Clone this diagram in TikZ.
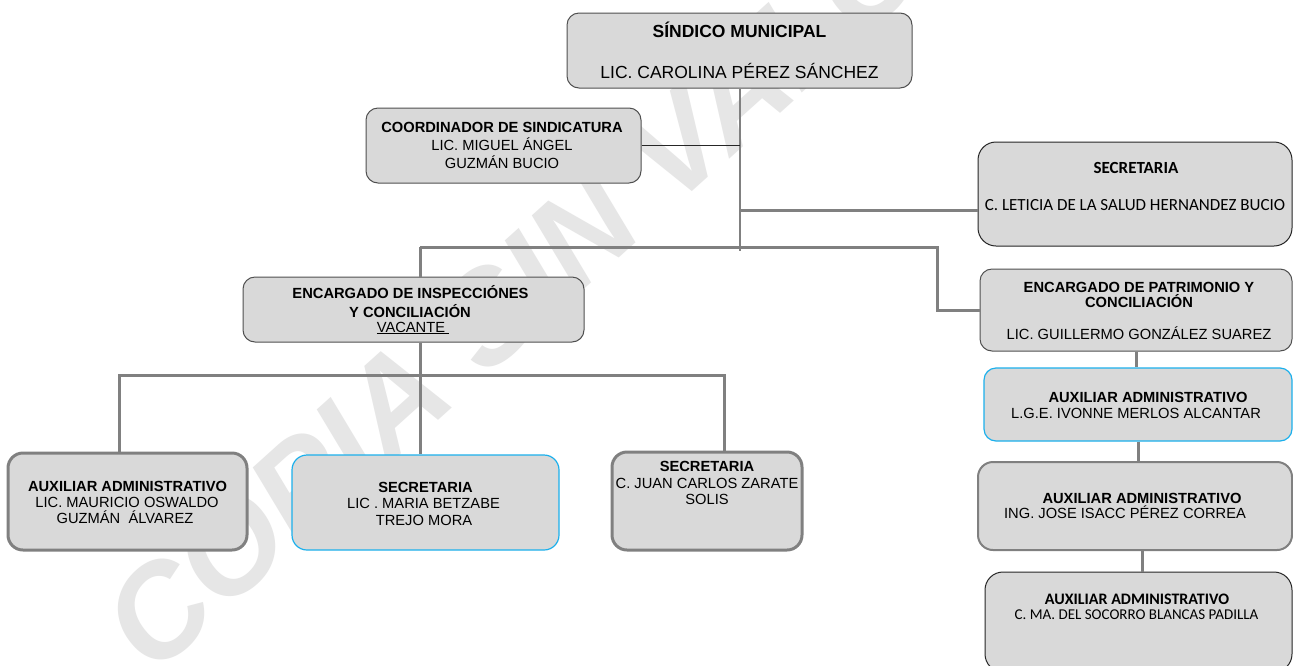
\documentclass[tikz,border=0pt]{standalone}
\usepackage{fontspec}
\setmainfont{Liberation Sans}
\newfontfamily\calibri{Carlito}
\definecolor{boxfill}{HTML}{D9D9D9}
\definecolor{bdark}{HTML}{505050}
\definecolor{lgray}{HTML}{808080}
\definecolor{bblue}{HTML}{1CB0EC}
\definecolor{wmcol}{HTML}{E6E6E6}
\definecolor{blk}{HTML}{262626}
\tikzset{
  boxg/.style={rounded corners=12pt, fill=boxfill, draw=bdark, line width=1pt, inner sep=0pt},
  boxthick/.style={boxg, draw=lgray, line width=3pt},
  boxblue/.style={boxg, draw=bblue, line width=1.2pt},
  txt/.style={anchor=base, inner sep=0pt, text=black, font=\fontsize{14.7}{17}\selectfont},
  txtb/.style={anchor=base, inner sep=0pt, text=black, font=\bfseries\fontsize{14.7}{17}\selectfont},
  conn/.style={draw=lgray, line width=3pt},
  connthin/.style={draw=lgray, line width=2pt},
  connblk/.style={draw=blk, line width=1.5pt},
  wm/.style={text=wmcol, inner sep=0pt, font=\bfseries\itshape\fontsize{130}{130}\selectfont}
}
\begin{document}
\begin{tikzpicture}[x=1pt,y=-1pt]
\useasboundingbox (0,0) rectangle (1293,665);
\fill[white] (0,0) rectangle (1293,665);
% watermark
\node[wm, rotate=42] (wmark) at (549,261) {COPIA SIN VALOR};

% boxes
\node[boxg, minimum width=345pt, minimum height=75pt] (sind) at (739.5,50.5) {};
\node[boxg, minimum width=275pt, minimum height=75pt] (coord) at (503.5,145.5) {};
\node[boxg, draw=blk, rounded corners=18pt, minimum width=314pt, minimum height=104pt] (sec1) at (1135,194) {};
\node[boxg, minimum width=312pt, minimum height=82pt] (patr) at (1136,310) {};
\node[boxblue, minimum width=308pt, minimum height=73pt] (aux1) at (1138,404.5) {};
\node[boxg, draw=lgray, line width=2pt, rounded corners=15pt, minimum width=314pt, minimum height=88pt] (aux2) at (1135,506) {};
\node[boxg, draw=blk, rounded corners=18pt, minimum width=307pt, minimum height=100pt] (aux3) at (1138.5,622) {};
\node[boxg, minimum width=341pt, minimum height=65pt] (insp) at (413.5,309.5) {};
\node[boxthick, rounded corners=15pt, minimum width=239pt, minimum height=97pt] (mau) at (127.5,501.5) {};
\node[boxblue, rounded corners=15pt, minimum width=267pt, minimum height=95pt] (mar) at (425.5,502.5) {};
\node[boxthick, rounded corners=15pt, minimum width=190pt, minimum height=98pt] (juan) at (707,501) {};

% texts
\node[txtb, font=\bfseries\fontsize{17.5}{20}\selectfont] (sindA) at (739.5,37) {SÍNDICO MUNICIPAL};
\node[txt, font=\fontsize{17.5}{20}\selectfont] (sindB) at (739.5,78) {LIC. CAROLINA PÉREZ SÁNCHEZ};

\node[txtb] (coordA) at (502,132) {COORDINADOR DE SINDICATURA};
\node[txt] (coordB) at (502,150) {LIC. MIGUEL ÁNGEL};
\node[txt] (coordC) at (502,168) {GUZMÁN BUCIO};

\node[txtb, font=\calibri\bfseries\fontsize{17}{20}\selectfont] (sec1A) at (1136,173) {SECRETARIA};
\node[txt, font=\calibri\fontsize{17}{20}\selectfont] (sec1B) at (1135,210) {C. LETICIA DE LA SALUD HERNANDEZ BUCIO};

\node[txtb] (patrA) at (1139,292) {ENCARGADO DE PATRIMONIO Y};
\node[txtb] (patrB) at (1139,307) {CONCILIACIÓN};
\node[txt] (patrC) at (1139,339) {LIC. GUILLERMO GONZÁLEZ SUAREZ};

\node[txtb] (aux1A) at (1148,402) {AUXILIAR ADMINISTRATIVO};
\node[txt] (aux1B) at (1136,418) {L.G.E. IVONNE MERLOS ALCANTAR};

\node[txtb] (aux2A) at (1142,503) {AUXILIAR ADMINISTRATIVO};
\node[txt] (aux2B) at (1125,518) {ING. JOSE ISACC PÉREZ CORREA};

\node[txtb, font=\calibri\bfseries\fontsize{16}{18}\selectfont] (aux3A) at (1137,604) {AUXILIAR ADMINISTRATIVO};
\node[txt, font=\calibri\fontsize{15}{18}\selectfont] (aux3B) at (1136.5,619) {C. MA. DEL SOCORRO BLANCAS PADILLA};

\node[txtb] (inspA) at (410.5,298) {ENCARGADO DE INSPECCIÓNES};
\node[txtb] (inspB) at (410,317) {Y CONCILIACIÓN};
\node[txt] (inspC) at (413,332) {\underline{VACANTE~}};

\node[txtb] (mauA) at (127.5,491) {AUXILIAR ADMINISTRATIVO};
\node[txt] (mauB) at (127,507) {LIC. MAURICIO OSWALDO};
\node[txt] (mauC) at (125,523) {GUZMÁN~~ÁLVAREZ};

\node[txtb] (marA) at (425.5,492) {SECRETARIA};
\node[txt] (marB) at (423.5,508) {LIC . MARIA BETZABE};
\node[txt] (marC) at (424,525) {TREJO MORA};

\node[txtb] (juanA) at (707,471) {SECRETARIA};
\node[txt] (juanB) at (707,488) {C. JUAN CARLOS ZARATE};
\node[txt] (juanC) at (707,504) {SOLIS};

% connectors
\coordinate (jS) at (740,251);
\coordinate (jL) at (740,210);
\coordinate (jA) at (420,247);
\coordinate (jB) at (937,247);
\coordinate (jC) at (119,375);
\coordinate (jD) at (724,375);
\coordinate (kx) at (1142,0);
\draw[connthin] (sind.south -| jS) -- (jS);
\draw[connblk] (coord.east) -- (coord.east -| jS);
\draw[conn] (jL) -- (jL -| sec1.west);
\draw[conn] (jA) -- (jB) -- (jB |- patr.west) -- (patr.west);
\draw[conn] (jA) -- (jA |- insp.north);
\draw[conn] (insp.south -| jA) -- (jA |- mar.north);
\draw[conn] (jC |- mau.north) -- (jC) -- (jD) -- (jD |- juan.north);
\draw[conn] (patr.south) -- (patr.south |- aux1.north);
\draw[conn] (aux1.south) -- (aux1.south |- aux2.north);
\draw[conn] (aux2.south -| kx) -- (aux3.north -| kx);
\end{tikzpicture}
\end{document}
